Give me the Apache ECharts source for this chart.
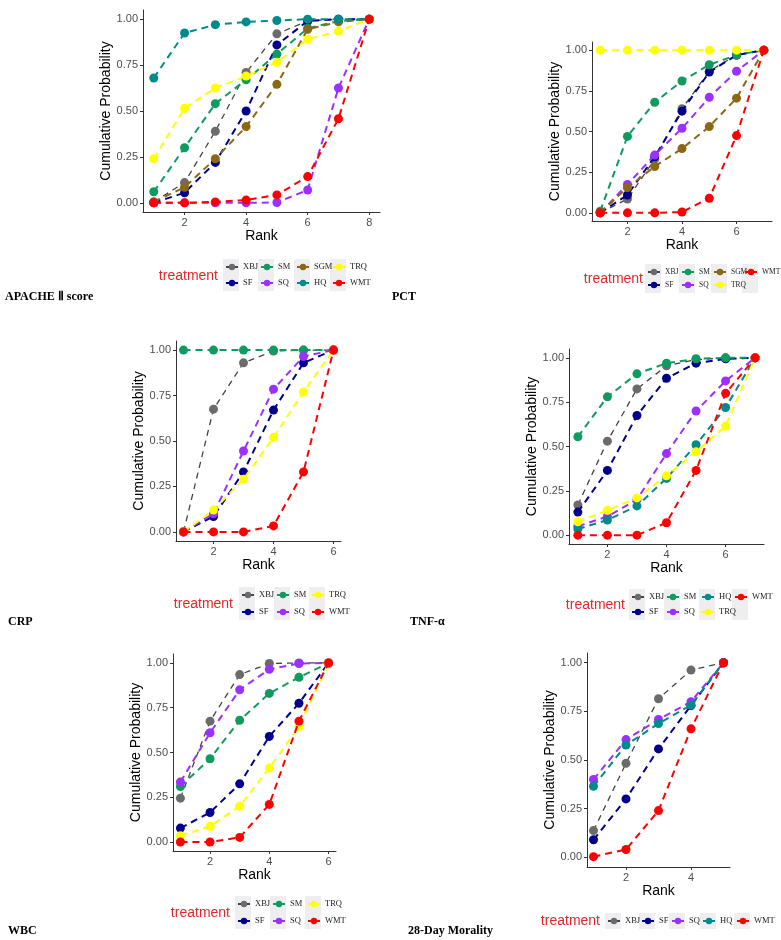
<!DOCTYPE html>
<html lang="en">
<head>
    <meta charset="UTF-8">
    <title>Cumulative ranking</title>
    <style>
        html, body { margin: 0; padding: 0; background: #fff; }
    </style>
</head>
<body>
<div id="main" style="width:781px;height:940px"></div>
<script src="https://cdn.jsdelivr.net/npm/echarts@6/dist/echarts.min.js"></script>
<script type="text/javascript">

    // ---- data ----
    var apacheRanks = [1, 2, 3, 4, 5, 6, 7, 8];
    var apacheTreat = ['XBJ', 'SF', 'SM', 'SQ', 'SGM', 'HQ', 'TRQ', 'WMT'];
    var apacheVals = [
        [0.005, 0.11, 0.39, 0.71, 0.92, 0.99, 1.0, 1.0],
        [0.0, 0.055, 0.22, 0.50, 0.86, 0.99, 1.0, 1.0],
        [0.06, 0.30, 0.54, 0.67, 0.81, 0.95, 0.99, 1.0],
        [0.0, 0.0, 0.0, 0.0, 0.002, 0.07, 0.625, 1.0],
        [0.005, 0.085, 0.24, 0.415, 0.645, 0.945, 0.985, 1.0],
        [0.68, 0.925, 0.97, 0.985, 0.993, 1.0, 1.0, 1.0],
        [0.24, 0.515, 0.625, 0.69, 0.765, 0.89, 0.935, 1.0],
        [0.0, 0.0, 0.005, 0.015, 0.043, 0.143, 0.458, 1.0]
    ];

    var pctRanks = [1, 2, 3, 4, 5, 6, 7];
    var pctTreat = ['XBJ', 'SF', 'SM', 'SQ', 'SGM', 'TRQ', 'WMT'];
    var pctVals = [
        [0.0, 0.085, 0.33, 0.64, 0.87, 0.97, 1.0],
        [0.0, 0.11, 0.345, 0.625, 0.865, 0.97, 1.0],
        [0.01, 0.47, 0.68, 0.81, 0.91, 0.97, 1.0],
        [0.0, 0.175, 0.355, 0.52, 0.71, 0.87, 1.0],
        [0.0, 0.155, 0.285, 0.395, 0.53, 0.705, 1.0],
        [1.0, 1.0, 1.0, 1.0, 1.0, 1.0, 1.0],
        [0.0, 0.0, 0.0, 0.005, 0.09, 0.475, 1.0]
    ];

    var crpRanks = [1, 2, 3, 4, 5, 6];
    var crpTreat = ['XBJ', 'SF', 'SM', 'SQ', 'TRQ', 'WMT'];
    var crpVals = [
        [0.0, 0.675, 0.93, 0.995, 1.0, 1.0],
        [0.0, 0.085, 0.33, 0.67, 0.93, 1.0],
        [1.0, 1.0, 1.0, 1.0, 1.0, 1.0],
        [0.0, 0.10, 0.445, 0.785, 0.965, 1.0],
        [0.0, 0.12, 0.29, 0.52, 0.77, 1.0],
        [0.0, 0.0, 0.0, 0.033, 0.33, 1.0]
    ];

    var tnfRanks = [1, 2, 3, 4, 5, 6, 7];
    var tnfTreat = ['XBJ', 'SF', 'SM', 'SQ', 'HQ', 'TRQ', 'WMT'];
    var tnfVals = [
        [0.17, 0.53, 0.825, 0.955, 0.99, 1.0, 1.0],
        [0.13, 0.365, 0.675, 0.885, 0.97, 0.995, 1.0],
        [0.555, 0.78, 0.91, 0.97, 0.995, 1.0, 1.0],
        [0.05, 0.105, 0.20, 0.46, 0.70, 0.87, 1.0],
        [0.035, 0.085, 0.165, 0.32, 0.51, 0.72, 1.0],
        [0.075, 0.14, 0.21, 0.335, 0.47, 0.615, 1.0],
        [0.0, 0.0, 0.0, 0.07, 0.365, 0.80, 1.0]
    ];

    var wbcRanks = [1, 2, 3, 4, 5, 6];
    var wbcTreat = ['XBJ', 'SF', 'SM', 'SQ', 'TRQ', 'WMT'];
    var wbcVals = [
        [0.245, 0.675, 0.935, 0.997, 1.0, 1.0],
        [0.078, 0.165, 0.325, 0.59, 0.775, 1.0],
        [0.31, 0.465, 0.68, 0.83, 0.92, 1.0],
        [0.335, 0.61, 0.85, 0.965, 0.997, 1.0],
        [0.035, 0.088, 0.20, 0.413, 0.645, 1.0],
        [0.0, 0.0, 0.026, 0.21, 0.675, 1.0]
    ];

    var mortRanks = [1, 2, 3, 4, 5];
    var mortTreat = ['XBJ', 'SF', 'SQ', 'HQ', 'WMT'];
    var mortVals = [
        [0.137, 0.483, 0.815, 0.962, 1.0],
        [0.09, 0.30, 0.557, 0.78, 1.0],
        [0.40, 0.605, 0.708, 0.80, 1.0],
        [0.365, 0.577, 0.687, 0.782, 1.0],
        [0.003, 0.04, 0.24, 0.66, 1.0]
    ];

    var yTicks = [0, 0.25, 0.5, 0.75, 1];

    var colors = {
        XBJ: '#6b6b6b', SF: '#00008b', SM: '#0f9a5f', SQ: '#9b30ff',
        SGM: '#8b6914', HQ: '#008b8b', TRQ: '#ffff00', WMT: '#ff0000'
    };

    // panel layout: grid box, x range, x ticks, legend columns
    var panels = [
        {ranks: apacheRanks, treat: apacheTreat, vals: apacheVals, label: 'APACHE \u2161 score',
            grid: [143, 10, 237, 202], xr: [0.65, 8.35], xt: [2, 4, 6, 8], nameGap: 30,
            leg: {cols: [['XBJ', 'SF'], ['SM', 'SQ'], ['SGM', 'HQ'], ['TRQ', 'WMT']], x: [231, 266, 302, 338], y: 267, pitch: 16, tx: 218, ty: 276, fs: 8.5},
            lab: [5, 297]},
        {ranks: pctRanks, treat: pctTreat, vals: pctVals, label: 'PCT',
            grid: [592, 42, 180, 179], xr: [0.7, 7.3], xt: [2, 4, 6], nameGap: 28,
            leg: {cols: [['XBJ', 'SF'], ['SM', 'SQ'], ['SGM', 'TRQ'], ['WMT']], x: [653, 687, 719, 750], y: 272, pitch: 13, tx: 643, ty: 279, fs: 7.5},
            lab: [392, 297]},
        {ranks: crpRanks, treat: crpTreat, vals: crpVals, label: 'CRP',
            grid: [176, 341, 165, 200], xr: [0.75, 6.25], xt: [2, 4, 6], nameGap: 29,
            leg: {cols: [['XBJ', 'SF'], ['SM', 'SQ'], ['TRQ', 'WMT']], x: [247, 282, 317], y: 595, pitch: 17, tx: 233, ty: 604, fs: 8.5},
            lab: [8, 622]},
        {ranks: tnfRanks, treat: tnfTreat, vals: tnfVals, label: 'TNF-\u03b1',
            grid: [569, 349, 195, 195], xr: [0.7, 7.3], xt: [2, 4, 6], nameGap: 29,
            leg: {cols: [['XBJ', 'SF'], ['SM', 'SQ'], ['HQ', 'TRQ'], ['WMT']], x: [637, 672, 707, 740], y: 597, pitch: 15, tx: 625, ty: 605, fs: 8.5},
            lab: [410, 622]},
        {ranks: wbcRanks, treat: wbcTreat, vals: wbcVals, label: 'WBC',
            grid: [173, 654, 163, 197], xr: [0.75, 6.25], xt: [2, 4, 6], nameGap: 29,
            leg: {cols: [['XBJ', 'SF'], ['SM', 'SQ'], ['TRQ', 'WMT']], x: [243, 278, 313], y: 904, pitch: 17, tx: 230, ty: 913, fs: 8.5},
            lab: [8, 931]},
        {ranks: mortRanks, treat: mortTreat, vals: mortVals, label: '28-Day Morality',
            grid: [587, 653, 143, 214], xr: [0.8, 5.2], xt: [2, 4], nameGap: 29,
            leg: {cols: [['XBJ'], ['SF'], ['SQ'], ['HQ'], ['WMT']], x: [613, 647, 677, 708, 742], y: 921, pitch: 0, tx: 600, ty: 921, fs: 8.5},
            lab: [408, 931]}
    ];

    var axisCol = '#333333';
    var grids = [], xAxes = [], yAxes = [], series = [], legends = [], graphics = [];

    panels.forEach(function (p, pi) {
        grids.push({left: p.grid[0], top: p.grid[1], width: p.grid[2], height: p.grid[3], containLabel: false});
        xAxes.push({
            type: 'value', gridIndex: pi, min: p.xr[0], max: p.xr[1],
            name: 'Rank', nameLocation: 'middle', nameGap: 17,
            nameTextStyle: {fontFamily: 'Liberation Sans', fontSize: 14, color: '#000'},
            axisLine: {onZero: false, lineStyle: {color: axisCol, width: 1}},
            axisTick: {customValues: p.xt, length: 3, lineStyle: {color: axisCol}},
            axisLabel: {customValues: p.xt, margin: 5, fontFamily: 'Liberation Sans', fontSize: 11, color: '#4d4d4d'},
            splitLine: {show: false}
        });
        yAxes.push({
            type: 'value', gridIndex: pi, min: -0.05, max: 1.05,
            name: 'Cumulative Probability', nameLocation: 'middle', nameGap: p.nameGap,
            nameTextStyle: {fontFamily: 'Liberation Sans', fontSize: 14, color: '#000'},
            axisLine: {onZero: false, lineStyle: {color: axisCol, width: 1}},
            axisTick: {customValues: yTicks, length: 3, lineStyle: {color: axisCol}},
            axisLabel: {customValues: yTicks, margin: 5, fontFamily: 'Liberation Sans', fontSize: 11, color: '#4d4d4d',
                formatter: function (v) { return v.toFixed(2); }},
            splitLine: {show: false}
        });

        p.treat.forEach(function (t, ti) {
            var pts = [];
            for (var i = 0; i < p.ranks.length; i++) {
                pts.push([p.ranks[i], p.vals[ti][i]]);
            }
            series.push({
                name: t, type: 'line', xAxisIndex: pi, yAxisIndex: pi,
                data: pts, symbol: 'circle', symbolSize: 9,
                itemStyle: {color: colors[t]},
                lineStyle: t === 'XBJ' ? {color: '#444', width: 1.3, type: [6, 5]}
                    : {color: colors[t], width: 2, type: [7, 5]},
                emphasis: {disabled: true},
                z: 2 + ti
            });
        });

        // legend: one vertical legend per column, grey key boxes behind
        var L = p.leg;
        var lh = Math.round(L.fs + 1);
        L.cols.forEach(function (names, ci) {
            legends.push({
                orient: 'vertical', left: L.x[ci] - 6, top: L.y - lh / 2,
                padding: 0, itemWidth: 12, itemHeight: 8, itemGap: L.pitch - lh,
                selectedMode: false, data: names,
                textStyle: {fontFamily: 'Liberation Serif', fontSize: L.fs, lineHeight: lh, color: '#222'},
                lineStyle: {type: 'solid'}
            });
        });
        var boxRows = L.cols[0].length;
        L.cols.forEach(function (names, ci) {
            graphics.push({
                type: 'rect', z: 0,
                shape: {x: L.x[ci] - 8, y: L.y - 8, width: 16, height: (boxRows - 1) * L.pitch + 16},
                style: {fill: '#eeeef0'}
            });
        });
        graphics.push({
            type: 'text', x: L.tx, y: L.ty, z: 5,
            style: {text: 'treatment', fill: '#e3262b', fontFamily: 'Liberation Sans', fontSize: 14,
                align: 'right', verticalAlign: 'middle'}
        });
        graphics.push({
            type: 'text', x: p.lab[0], y: p.lab[1], z: 5,
            style: {text: p.label, fill: '#000', fontFamily: 'Liberation Serif', fontSize: 12, fontWeight: 'bold',
                align: 'left', verticalAlign: 'middle'}
        });
    });

    var myChart = echarts.init(document.getElementById('main'), null, {renderer: 'canvas'});
    var option = {
        backgroundColor: '#fff',
        animation: false,
        grid: grids,
        xAxis: xAxes,
        yAxis: yAxes,
        legend: legends,
        graphic: graphics,
        series: series
    };
    myChart.setOption(option);
</script>
</body>
</html>
